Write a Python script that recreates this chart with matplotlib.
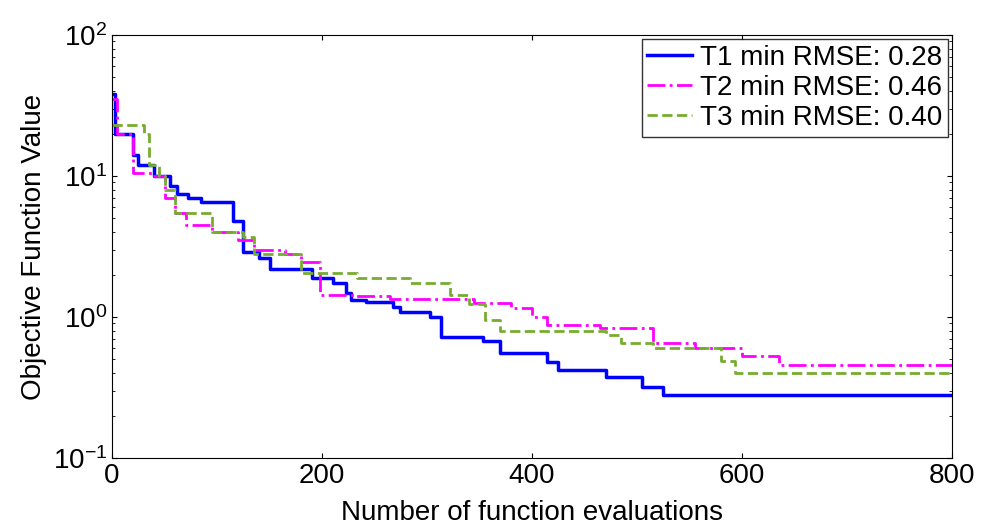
import matplotlib
matplotlib.use("Agg")
import matplotlib.pyplot as plt

plt.rcParams['font.family'] = ['Liberation Sans', 'DejaVu Sans']

t1_x = [0, 3, 20, 25, 40, 55, 62, 72, 85, 115, 125, 140, 150, 190, 210, 223, 228, 242, 268, 274, 303, 313, 353, 370, 414, 425, 470, 505, 525, 800]
t1_y = [38, 20, 14, 12, 10, 8.5, 7.5, 7.0, 6.5, 4.8, 2.9, 2.6, 2.2, 1.9, 1.74, 1.49, 1.32, 1.28, 1.18, 1.08, 1.0, 0.72, 0.68, 0.56, 0.48, 0.42, 0.375, 0.32, 0.28, 0.28]
t2_x = [0, 5, 20, 40, 50, 60, 70, 95, 120, 135, 165, 180, 198, 230, 265, 345, 380, 400, 414, 465, 515, 555, 600, 635, 800]
t2_y = [35, 20, 10.5, 10, 7, 5.5, 4.5, 4.0, 3.5, 3.0, 2.8, 2.45, 1.43, 1.4, 1.35, 1.26, 1.15, 1.0, 0.88, 0.84, 0.65, 0.6, 0.53, 0.46, 0.46]
t3_x = [0, 30, 35, 45, 50, 60, 95, 125, 135, 180, 233, 284, 322, 340, 355, 370, 470, 485, 515, 580, 593, 800]
t3_y = [23, 20, 12, 10, 8, 5.5, 4.0, 3.7, 2.8, 2.05, 1.9, 1.74, 1.44, 1.24, 0.95, 0.8, 0.74, 0.65, 0.6, 0.49, 0.40, 0.40]

fig = plt.figure(figsize=(9.84, 5.31), dpi=100)
ax = fig.add_axes([112/984, 1-458/531, (952-112)/984, (458-35)/531])
ax.plot(t1_x, t1_y, drawstyle='steps-post', color='#0000ff', lw=2.5, label='T1 min RMSE: 0.28')
ax.plot(t2_x, t2_y, drawstyle='steps-post', color='#ff00ff', lw=2, linestyle='-.', label='T2 min RMSE: 0.46')
ax.plot(t3_x, t3_y, drawstyle='steps-post', color='#77ac30', lw=2, linestyle='--', label='T3 min RMSE: 0.40')
ax.set_yscale('log')
ax.set_ylim(0.1, 100)
ax.set_xlim(0, 800)
ax.set_xticks([0, 200, 400, 600, 800])
ax.tick_params(labelsize=20, direction='in', which='both', top=True, right=True)
ax.set_xlabel('Number of function evaluations', fontsize=20, labelpad=8)
ax.set_ylabel('Objective Function Value', fontsize=20)
leg = ax.legend(loc='upper right', fontsize=20, fancybox=False, edgecolor='black',
                handlelength=1.6, handletextpad=0.3, borderpad=0.2, labelspacing=0.15, borderaxespad=0.15)
leg.get_frame().set_linewidth(1)
fig.savefig('out.png')
